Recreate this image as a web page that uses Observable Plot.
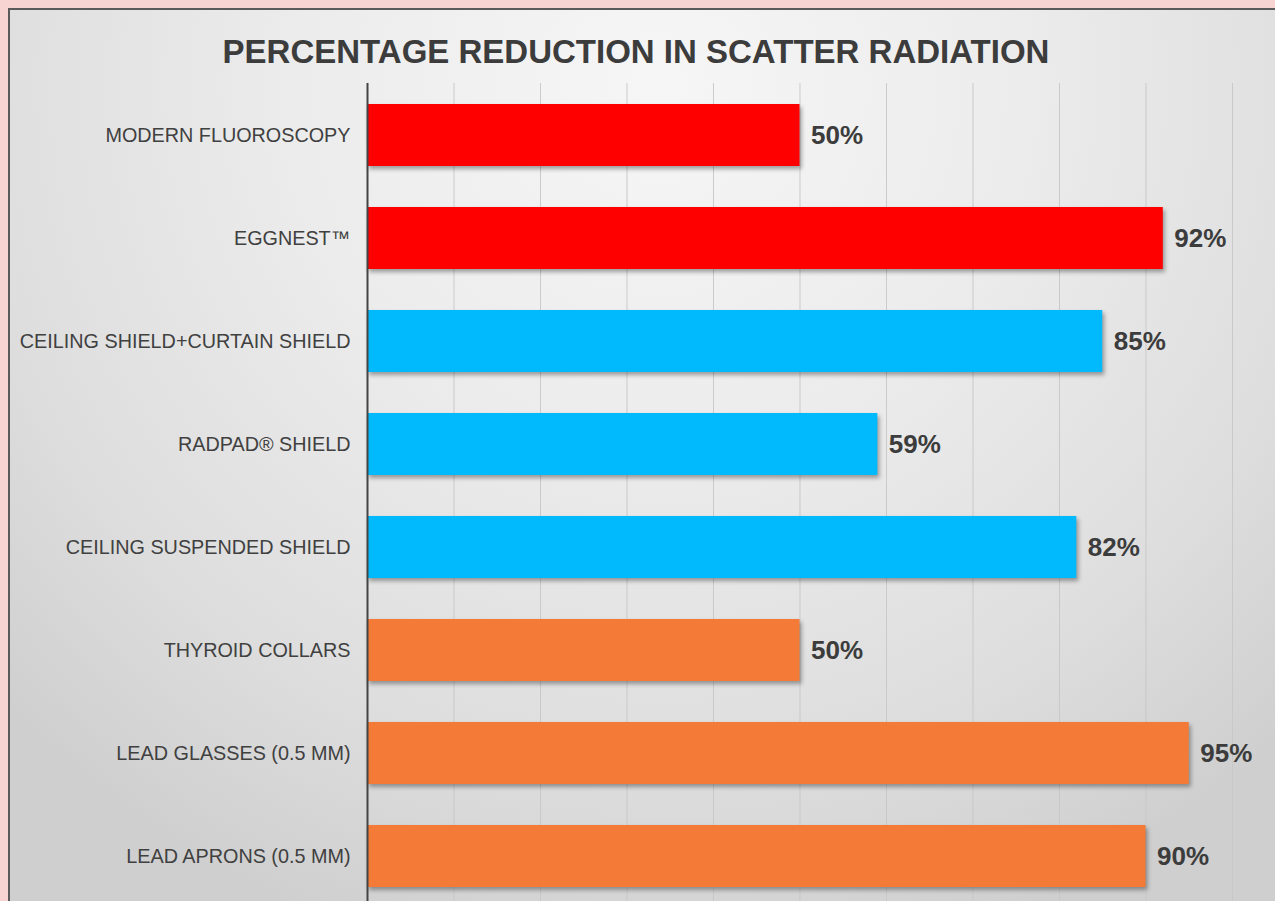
<!DOCTYPE html>
<html>
<head>
<meta charset="utf-8">
<script src="https://cdn.jsdelivr.net/npm/d3@7"></script>
<script src="https://cdn.jsdelivr.net/npm/@observablehq/plot@0.6"></script>
<style>
  html, body { margin: 0; padding: 0; background: #f7d4d2; overflow: hidden; }
  #page { position: relative; width: 1275px; height: 901px; overflow: hidden; background: #f7d4d2; }
  #panel { position: absolute; left: 8px; top: 8px; width: 1300px; height: 950px;
    border: 2px solid #5a5a5a; box-sizing: border-box;
    background: radial-gradient(ellipse 70% 95% at 50% 8%, #f6f6f6 0%, #ececec 40%, #dedede 75%, #cfcfcf 100%); }
  #title { position: absolute; left: 0; width: 1272px; top: 33px; text-align: center;
    font-family: "Liberation Sans", Arial, sans-serif; font-weight: bold; font-size: 33px; color: #3c3c3c; }
  #chart { position: absolute; left: 0; top: 0; }
</style>
</head>
<body>
<div id="page">
  <div id="panel"></div>
  <div id="title">PERCENTAGE REDUCTION IN SCATTER RADIATION</div>
  <div id="chart"></div>
</div>
<script>
const categories = [
  "MODERN FLUOROSCOPY",
  "EGGNEST™",
  "CEILING SHIELD+CURTAIN SHIELD",
  "RADPAD® SHIELD",
  "CEILING SUSPENDED SHIELD",
  "THYROID COLLARS",
  "LEAD GLASSES (0.5 MM)",
  "LEAD APRONS (0.5 MM)"
];
const values = [50, 92, 85, 59, 82, 50, 95, 90];
const groups = ["fluoro", "fluoro", "shield", "shield", "shield", "personal", "personal", "personal"];
const groupNames = ["fluoro", "shield", "personal"];
const groupColors = ["#ff0000", "#00bafd", "#f47b37"];
const gridTicks = [10, 20, 30, 40, 50, 60, 70, 80, 90, 100];

const data = categories.map((c, i) => ({ category: c, value: values[i], group: groups[i], label: values[i] + "%" }));

const plot = Plot.plot({
  width: 1275,
  height: 901,
  marginLeft: 367,
  marginRight: 43,
  marginTop: 83,
  marginBottom: 0,
  style: { background: "transparent", fontFamily: "'Liberation Sans', Arial, sans-serif", overflow: "hidden" },
  x: { domain: [0, 100], range: [367, 1232], axis: null },
  y: { domain: categories, range: [83, 907], paddingInner: 0.4, paddingOuter: 0.2, axis: null },
  color: { domain: groupNames, range: groupColors },
  marks: [
    Plot.ruleX(gridTicks, { stroke: "#c6c6c6", strokeOpacity: 0.9, strokeWidth: 1 }),
    Plot.barX(data, { x: "value", y: "category", fill: "group" }),
    Plot.ruleX([0], { stroke: "#444", strokeWidth: 2 }),
    Plot.axisY({ tickSize: 0, tickPadding: 17, fontSize: 19.8, fill: "#404040", label: null }),
    Plot.text(data, { x: "value", y: "category", text: "label", textAnchor: "start", dx: 11,
      fontSize: 26, fontWeight: "bold", fill: "#3c3c3c" })
  ]
});
document.getElementById("chart").appendChild(plot);
const bars = plot.querySelector('g[aria-label="bar"]');
if (bars) bars.style.filter = "drop-shadow(2px 3px 2px rgba(0,0,0,0.35))";
</script>
</body>
</html>
